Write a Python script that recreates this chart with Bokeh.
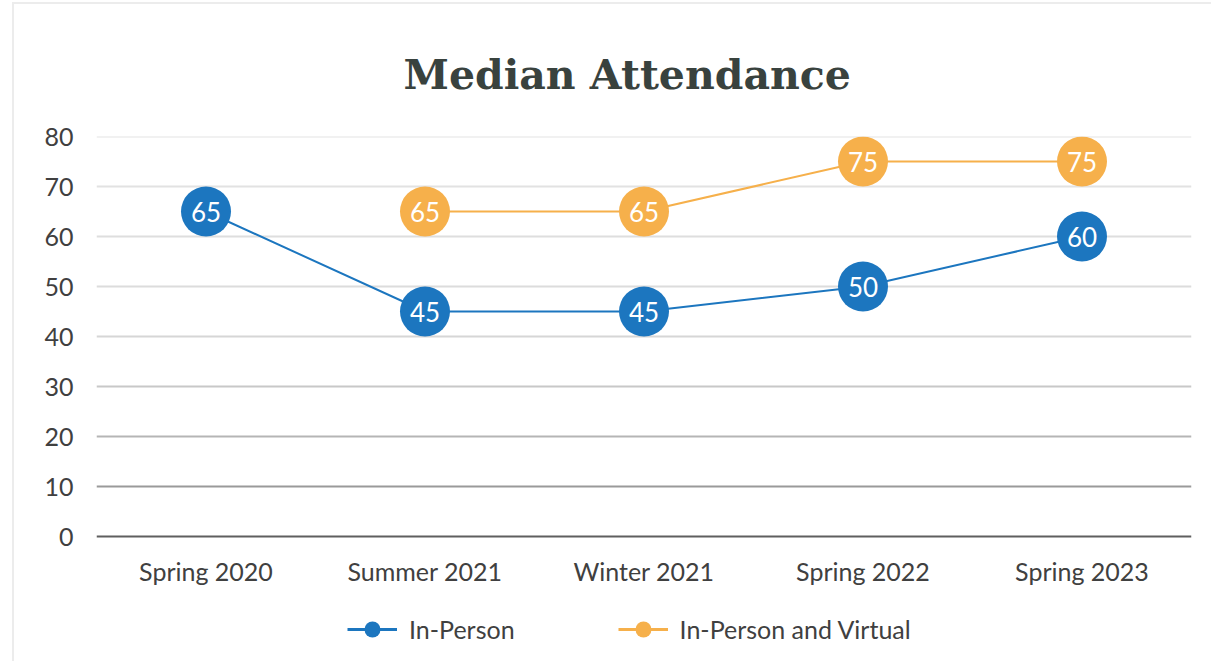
from bokeh.plotting import figure
from bokeh.models import ColumnDataSource, Range1d, FactorRange, Legend, LegendItem, Title, FixedTicker
from bokeh.core.properties import value
from bokeh.embed import file_html
from bokeh.resources import INLINE

categories = ["Spring 2020", "Summer 2021", "Winter 2021", "Spring 2022", "Spring 2023"]
in_person = [65, 45, 45, 50, 60]
hybrid_cats = ["Summer 2021", "Winter 2021", "Spring 2022", "Spring 2023"]
hybrid = [65, 65, 75, 75]
y_ticks = [0, 10, 20, 30, 40, 50, 60, 70, 80]
grid_colors = ["#5f5f5f", "#9a9a9a", "#b5b5b5", "#c8c8c8", "#d6d6d6", "#dcdcdc", "#dedede", "#e2e2e2", "#e4e4e4"]

BLUE = "#1c76bf"
ORANGE = "#f6b04b"
FONT = "Lato"

# y range extends below 0 so that the legend area lies inside the frame
p = figure(x_range=FactorRange(*categories), y_range=Range1d(-25, 80),
           frame_width=1095, frame_height=525, output_backend="svg", toolbar_location=None,
           min_border_left=82, min_border_right=20, min_border_top=132, min_border_bottom=0)
p.margin = (2, 0, 0, 12)
p.styles = {"border-left": "2px solid #ececec", "border-top": "2px solid #ececec"}
p.outline_line_color = None
p.background_fill_color = "white"
p.border_fill_color = "white"

t = Title(text="Median Attendance", align="left", text_font="DejaVu Serif",
          text_font_size="41px", text_font_style="bold", text_color="#39423e", standoff=76, offset=307)
p.add_layout(t, "above")

p.xgrid.grid_line_color = None
p.ygrid.grid_line_color = None
p.hspan(y=y_ticks, line_color=grid_colors, line_width=2)

p.yaxis.ticker = FixedTicker(ticks=y_ticks)
p.xaxis.fixed_location = 0
for ax in (p.xaxis, p.yaxis):
    ax.axis_line_color = None
    ax.major_tick_line_color = None
    ax.minor_tick_line_color = None
    ax.major_label_text_font = FONT
    ax.major_label_text_font_size = "25px"
    ax.major_label_text_color = "#404040"
p.yaxis.major_label_standoff = 17
p.xaxis.major_label_standoff = 13

src1 = ColumnDataSource(dict(x=categories, y=in_person, lab=[str(v) for v in in_person]))
src2 = ColumnDataSource(dict(x=hybrid_cats, y=hybrid, lab=[str(v) for v in hybrid]))

l1 = p.line("x", "y", source=src1, line_color=BLUE, line_width=2)
l2 = p.line("x", "y", source=src2, line_color=ORANGE, line_width=2)
c1 = p.scatter("x", "y", source=src1, size=50, fill_color=BLUE, line_color=None)
c2 = p.scatter("x", "y", source=src2, size=50, fill_color=ORANGE, line_color=None)
p.text("x", "y", text="lab", source=src1, text_color="white", text_font=value(FONT),
       text_font_size="26px", text_align="center", text_baseline="middle")
p.text("x", "y", text="lab", source=src2, text_color="white", text_font=value(FONT),
       text_font_size="26px", text_align="center", text_baseline="middle")

# legend proxies
lg1 = p.scatter([categories[0]], [in_person[0]], size=17, fill_color=BLUE, line_color=None, visible=False)
lg2 = p.scatter([hybrid_cats[0]], [hybrid[0]], size=17, fill_color=ORANGE, line_color=None, visible=False)
lgl1 = p.line([categories[0]], [in_person[0]], line_color=BLUE, line_width=3, visible=False)
lgl2 = p.line([hybrid_cats[0]], [hybrid[0]], line_color=ORANGE, line_width=3, visible=False)

legend = Legend(items=[LegendItem(label="In-Person", renderers=[lgl1, lg1]),
                       LegendItem(label="In-Person and Virtual", renderers=[lgl2, lg2])],
                orientation="horizontal", location=(251, 12),
                label_text_font=FONT, label_text_font_size="25px", label_text_color="#404040",
                glyph_width=50, glyph_height=40, spacing=103, label_standoff=12, border_line_color=None,
                background_fill_alpha=0, margin=0, padding=6)
p.add_layout(legend, "center")

open("out.html", "w").write(file_html(p, INLINE))
